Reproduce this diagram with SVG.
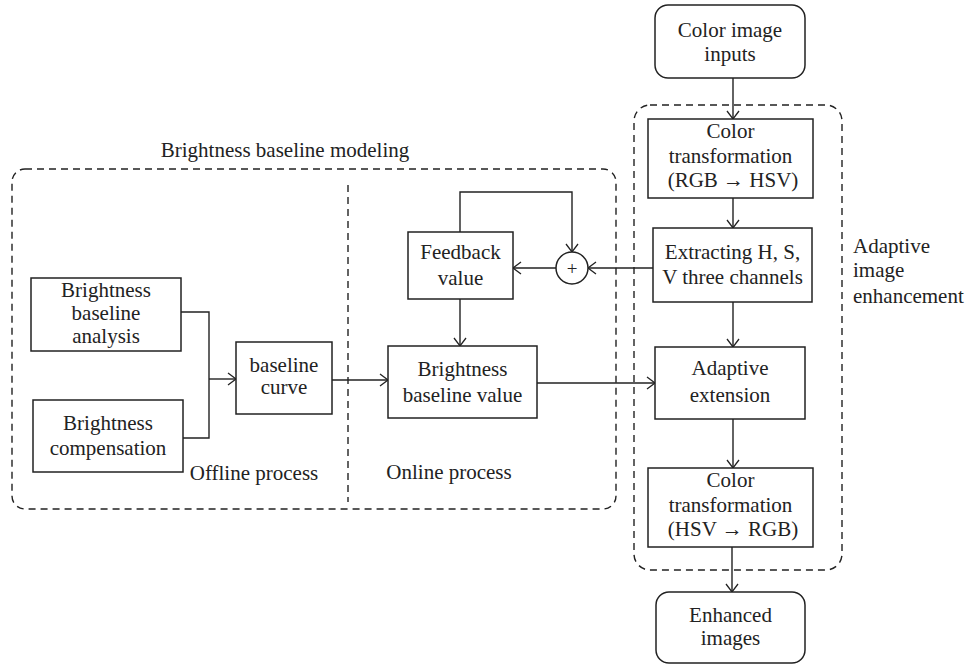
<svg xmlns="http://www.w3.org/2000/svg" width="971" height="665" viewBox="0 0 971 665">
<defs>
<marker id="arr" markerUnits="userSpaceOnUse" markerWidth="12" markerHeight="14" refX="9" refY="7" orient="auto">
<path d="M1,1 L9,7 L1,13" fill="none" stroke="#222" stroke-width="1.3"/>
</marker>
<style>
text{font-family:"Liberation Serif","Times New Roman",serif;font-size:21px;fill:#222;text-anchor:middle}
.box{fill:#fff;stroke:#222;stroke-width:1.5}
.dash{fill:none;stroke:#222;stroke-width:1.4;stroke-dasharray:7,5}
.c{fill:none;stroke:#222;stroke-width:1.4}
.lbl{text-anchor:start}
</style>
</defs>
<rect width="971" height="665" fill="#fff"/>

<g id="groups">
<rect class="dash" x="12" y="169" width="604" height="340" rx="13"/>
<line class="dash" x1="348" y1="185" x2="348" y2="502"/>
<rect class="dash" x="634" y="105" width="208" height="465" rx="16"/>
<text x="285" y="157">Brightness baseline modeling</text>
<text x="254" y="480">Offline process</text>
<text x="449" y="479">Online process</text>
<text class="lbl" x="853" y="253">Adaptive</text>
<text class="lbl" x="853" y="277">image</text>
<text class="lbl" x="853" y="303">enhancement</text>
</g>

<g id="connectors">
<polyline class="c" points="181,312 209,312 209,438 183,438"/>
<line class="c" x1="209" y1="379" x2="236" y2="379" marker-end="url(#arr)"/>
<line class="c" x1="332" y1="380" x2="388" y2="380" marker-end="url(#arr)"/>
<polyline class="c" points="460,232 460,192 572,192 572,252" marker-end="url(#arr)"/>
<line class="c" x1="556" y1="268" x2="513" y2="268" marker-end="url(#arr)"/>
<line class="c" x1="653" y1="268" x2="588" y2="268" marker-end="url(#arr)"/>
<line class="c" x1="460" y1="299" x2="460" y2="346" marker-end="url(#arr)"/>
<line class="c" x1="537" y1="383" x2="655" y2="383" marker-end="url(#arr)"/>
<line class="c" x1="733" y1="78" x2="733" y2="119" marker-end="url(#arr)"/>
<line class="c" x1="733" y1="198" x2="733" y2="228" marker-end="url(#arr)"/>
<line class="c" x1="733" y1="302" x2="733" y2="347" marker-end="url(#arr)"/>
<line class="c" x1="733" y1="419" x2="733" y2="468" marker-end="url(#arr)"/>
<line class="c" x1="732" y1="547" x2="732" y2="592" marker-end="url(#arr)"/>
</g>

<g id="analysis">
<rect class="box" x="31" y="278" width="150" height="73"/>
<text x="106" y="297">Brightness</text>
<text x="106" y="320">baseline</text>
<text x="106" y="343">analysis</text>
</g>
<g id="compensation">
<rect class="box" x="33" y="400" width="150" height="72"/>
<text x="108" y="430">Brightness</text>
<text x="108" y="455">compensation</text>
</g>
<g id="baseline-curve">
<rect class="box" x="236" y="342" width="96" height="72"/>
<text x="284" y="372">baseline</text>
<text x="284" y="394">curve</text>
</g>
<g id="feedback">
<rect class="box" x="408" y="232" width="105" height="67"/>
<text x="460.5" y="259">Feedback</text>
<text x="460.5" y="285">value</text>
</g>
<g id="sum">
<circle class="box" cx="572" cy="268" r="16"/>
<text x="572" y="274.5" style="font-size:19px">+</text>
</g>
<g id="baseline-value">
<rect class="box" x="388" y="346" width="149" height="72"/>
<text x="462.5" y="376">Brightness</text>
<text x="462.5" y="402">baseline value</text>
</g>
<g id="inputs">
<rect class="box" x="655" y="5" width="150" height="73" rx="13"/>
<text x="730" y="37">Color image</text>
<text x="730" y="61">inputs</text>
</g>
<g id="rgb2hsv">
<rect class="box" x="648" y="119" width="165" height="79"/>
<text x="730.5" y="138">Color</text>
<text x="730.5" y="163">transformation</text>
<text x="733" y="187">(RGB → HSV)</text>
</g>
<g id="extract">
<rect class="box" x="653" y="228" width="159" height="74"/>
<text x="732.5" y="259">Extracting H, S,</text>
<text x="732.5" y="284">V three channels</text>
</g>
<g id="adaptive-ext">
<rect class="box" x="655" y="347" width="150" height="72"/>
<text x="730" y="375">Adaptive</text>
<text x="730" y="402">extension</text>
</g>
<g id="hsv2rgb">
<rect class="box" x="648" y="468" width="165" height="79"/>
<text x="730.5" y="487">Color</text>
<text x="730.5" y="512">transformation</text>
<text x="733" y="536">(HSV → RGB)</text>
</g>
<g id="enhanced">
<rect class="box" x="656" y="592" width="149" height="71" rx="13"/>
<text x="730.5" y="622">Enhanced</text>
<text x="730.5" y="645">images</text>
</g>
</svg>
